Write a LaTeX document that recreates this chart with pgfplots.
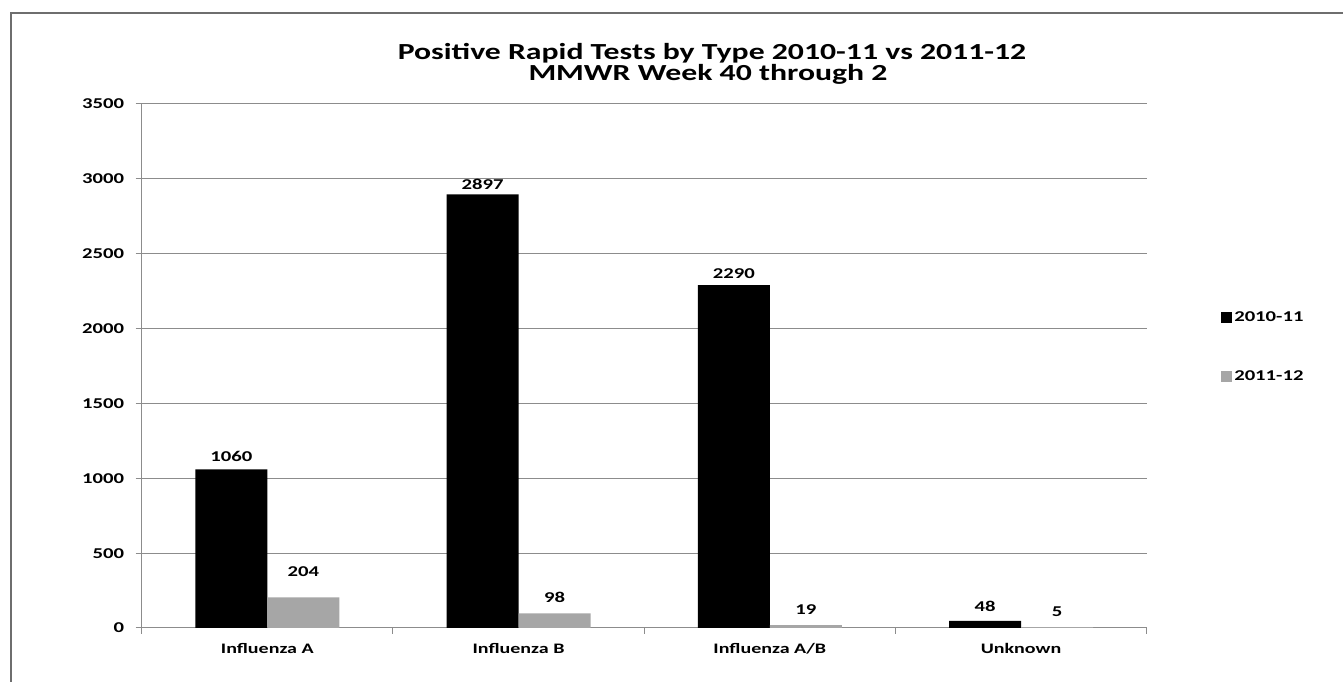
\documentclass[border=0pt]{standalone}
\usepackage{fontspec}
\setmainfont{Carlito}[FakeStretch=1.38]
\usepackage{pgfplots}
\pgfplotsset{compat=1.18}
\usepackage{pgfplotstable}
\pgfplotstableread{
x y off
0 1060 7
1 2897 4
2 2290 6
3 48 9
}\dataA
\pgfplotstableread{
x y off
0 204 21
1 98 11
2 19 10
3 5 10
}\dataB
\definecolor{barGray}{HTML}{A6A6A6}
\definecolor{gridGray}{HTML}{8C8C8C}
\definecolor{frameGray}{HTML}{6E6E6E}
\newcommand{\smallfont}{\fontsize{15bp}{18bp}\selectfont}
\begin{document}
\begin{tikzpicture}[x=1bp,y=1bp]
\useasboundingbox (0,0) rectangle (1343,681);
\fill[white] (0,0) rectangle (1343,681);
\draw[frameGray, line width=1.5bp] (11,-5) -- (11,668) -- (1350,668);
\node[anchor=base, inner sep=0pt, font=\fontsize{23bp}{26bp}\selectfont\bfseries] at (712,621) {Positive Rapid Tests by Type 2010-11 vs 2011-12};
\node[anchor=base, inner sep=0pt, font=\fontsize{23bp}{26bp}\selectfont\bfseries] at (708,600) {MMWR Week 40 through 2};
\begin{axis}[
  at={(141.7bp,53bp)}, anchor=south west,
  scale only axis, width=1005bp, height=524bp,
  xmin=-0.5, xmax=3.5, ymin=0, ymax=3500,
  ytick={0,500,...,3500},
  xtick={-0.5,0.5,1.5,2.5,3.5},
  x tick label as interval,
  xticklabels={Influenza A, Influenza B, Influenza A/B, Unknown},
  axis x line*=bottom, axis y line*=left,
  axis line style={gridGray, line width=1bp, -},
  tick style={gridGray, line width=1bp},
  tick align=outside, major tick length=6bp,
  ymajorgrids, grid style={gridGray, line width=1bp},
  yticklabel style={font=\smallfont\bfseries, xshift=-8bp, /pgf/number format/1000 sep={}, /pgf/number format/assume math mode=true},
  xticklabel style={font=\fontsize{14.5bp}{17bp}\selectfont\bfseries, yshift=-6bp},
  legend style={at={(1.074,0.536)}, anchor=west, draw=none, fill=none, inner sep=0pt,
    font=\smallfont\bfseries, row sep=44bp, legend cell align=left},
  legend image code/.code={\fill[#1] (0bp,-5.5bp) rectangle (11bp,5.5bp);},
]
\addplot[ybar, fill=black, draw=none, bar width=0.2866, bar shift=-0.1433,
  nodes near coords, point meta=explicit symbolic,
  visualization depends on={\thisrow{off}\as\myoff},
  every node near coord/.append style={font=\smallfont\bfseries, text=black, anchor=south, inner sep=0pt, xshift=-36bp, yshift=\myoff bp}]
  table[x=x,y=y,meta=y]{\dataA};
\addlegendentry{2010-11}
\addplot[ybar, fill=barGray, draw=none, bar width=0.2866, bar shift=0.1433,
  nodes near coords, point meta=explicit symbolic,
  visualization depends on={\thisrow{off}\as\myoff},
  every node near coord/.append style={font=\smallfont\bfseries, text=black, anchor=south, inner sep=0pt, xshift=36bp, yshift=\myoff bp}]
  table[x=x,y=y,meta=y]{\dataB};
\addlegendentry{2011-12}
\end{axis}
\end{tikzpicture}
\end{document}
